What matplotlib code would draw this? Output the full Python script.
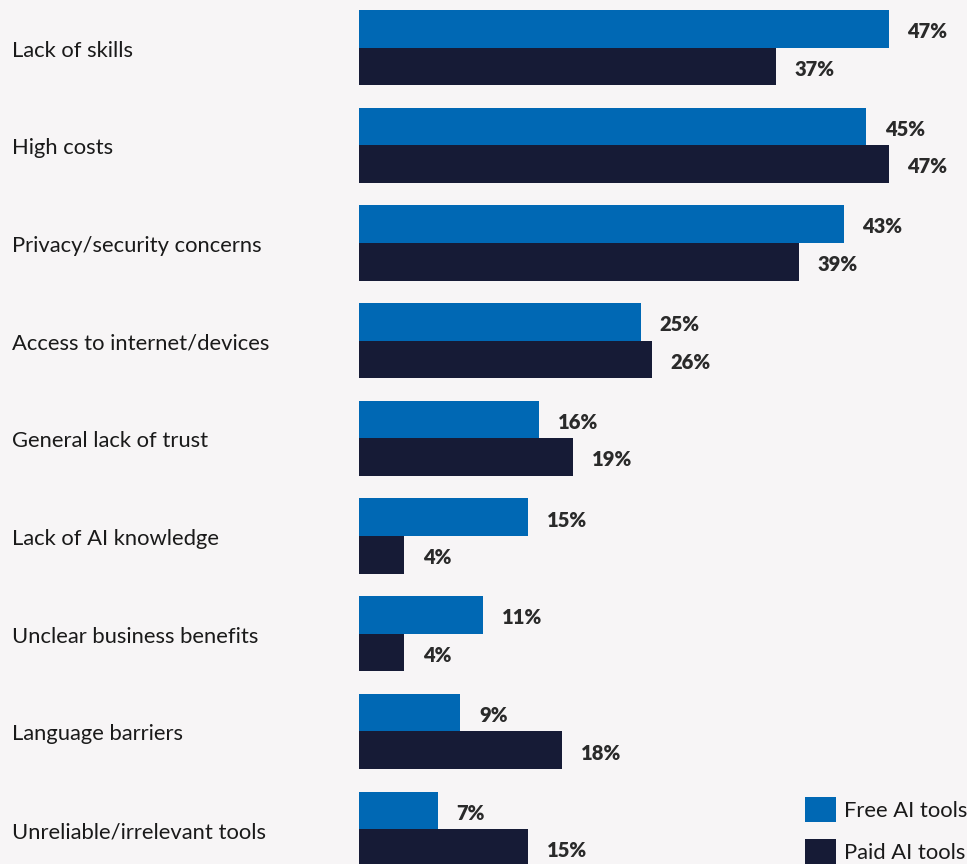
import matplotlib
matplotlib.use("Agg")
import matplotlib.pyplot as plt
import numpy as np

plt.rcParams['font.family'] = ['Lato', 'DejaVu Sans']

# barriers to AI adoption, % of respondents
barriers = [
    "Lack of skills",
    "High costs",
    "Privacy/security concerns",
    "Access to internet/devices",
    "General lack of trust",
    "Lack of AI knowledge",
    "Unclear business benefits",
    "Language barriers",
    "Unreliable/irrelevant tools",
]
free_tools = [47, 45, 43, 25, 16, 15, 11, 9, 7]
paid_tools = [37, 47, 39, 26, 19, 4, 4, 18, 15]

BG = '#F7F5F6'
BLUE = '#0068B4'
NAVY = '#161B36'
TEXT = '#2A2A2A'

fig = plt.figure(figsize=(9.67, 8.64), dpi=100)
fig.patch.set_facecolor(BG)

ax = fig.add_axes([359 / 967, 0.0, 608 / 967, 1.0])
ax.set_facecolor(BG)

y = np.arange(len(barriers))
h = 0.385
b1 = ax.barh(y - h / 2, free_tools, height=h, color=BLUE, label='Free AI tools')
b2 = ax.barh(y + h / 2, paid_tools, height=h, color=NAVY, label='Paid AI tools')

for bars in (b1, b2):
    labels = ax.bar_label(bars, fmt='{:g}%', padding=13.5, fontsize=14.5,
                          fontweight='heavy', color=TEXT)
    for t in labels:
        x0, y0 = t.xyann
        t.xyann = (x0, y0 - 2)

ax.set_xlim(0, 608 / 11.27)
ax.set_ylim(-0.487 + 864 / 97.7, -0.487)

for s in ax.spines.values():
    s.set_visible(False)
ax.set_xticks([])
ax.set_yticks([])

# category names on the far left
for yi, name in zip(y, barriers):
    ax.annotate(name, xy=(0, yi), xycoords=('figure fraction', 'data'),
                xytext=(12, -3), textcoords='offset pixels',
                ha='left', va='center', fontsize=15.8, color='#1A1A1A')

leg = ax.legend(loc='lower right', bbox_to_anchor=(1.0, 0.0),
                bbox_transform=fig.transFigure, frameon=False, fontsize=15.8,
                handlelength=1.4, handleheight=1.4, handletextpad=0.36,
                labelspacing=0.75, borderpad=0.0, borderaxespad=0.0)
for t in leg.get_texts():
    t.set_color('#1A1A1A')

fig.savefig('out.png', dpi=100, facecolor=BG)
